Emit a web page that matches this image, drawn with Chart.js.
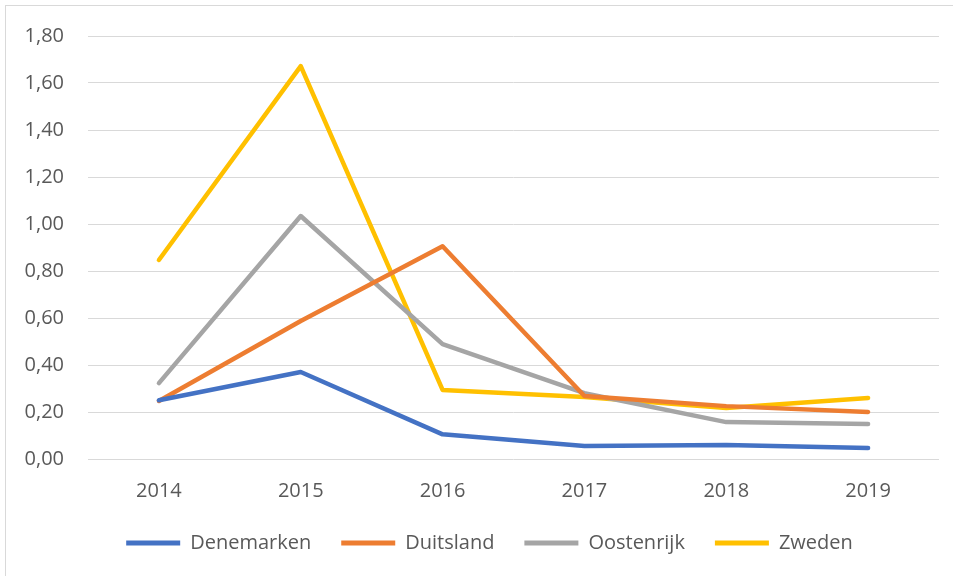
<!DOCTYPE html>
<html>
<head>
<meta charset="utf-8">
<script src="https://cdn.jsdelivr.net/npm/chart.js@4/dist/chart.umd.min.js"></script>
<style>
  html, body { margin: 0; padding: 0; background: #ffffff; overflow: hidden; }
  #frame { position: absolute; left: 5px; top: 5px; width: 960px; height: 600px;
           border-left: 1px solid #d9d9d9; border-top: 1px solid #d9d9d9; }
  #wrap { position: absolute; left: 0; top: 0; width: 953px; height: 576px; }
</style>
</head>
<body>
<div id="frame"></div>
<div id="wrap"><canvas id="c" width="953" height="576"></canvas></div>
<script>
const years = ['2014', '2015', '2016', '2017', '2018', '2019'];
const denemarken = [0.25, 0.37, 0.105, 0.055, 0.06, 0.047];
const duitsland  = [0.247, 0.587, 0.905, 0.268, 0.225, 0.20];
const oostenrijk = [0.323, 1.034, 0.489, 0.28, 0.157, 0.149];
const zweden     = [0.847, 1.672, 0.294, 0.264, 0.217, 0.26];
const seriesNames = ['Denemarken', 'Duitsland', 'Oostenrijk', 'Zweden'];
const seriesColors = ['#4472C4', '#ED7D31', '#A5A5A5', '#FFC000'];
const seriesData = [denemarken, duitsland, oostenrijk, zweden];

const textColor = '#595959';
const fontFamily = '"Open Sans", "Noto Sans", sans-serif';

// let the y tick labels extend left of the axis box without being clipped
const unclipY = {
  id: 'unclipY',
  afterLayout(chart) { chart.scales.y.left = 0; }
};

new Chart(document.getElementById('c'), {
  type: 'line',
  data: {
    labels: years,
    datasets: seriesData.map((d, i) => ({
      label: seriesNames[i],
      data: d,
      borderColor: seriesColors[i],
      backgroundColor: seriesColors[i],
      borderWidth: 4.5,
      borderCapStyle: 'round',
      borderJoinStyle: 'round',
      pointRadius: 0,
      pointHoverRadius: 0,
      tension: 0,
      fill: false
    }))
  },
  plugins: [unclipY],
  options: {
    responsive: false,
    animation: false,
    events: [],
    layout: { padding: { left: 40, right: 14, top: 36, bottom: 13 } },
    scales: {
      x: {
        offset: true,
        grid: { display: false, drawTicks: false },
        border: { display: false },
        ticks: { color: textColor, font: { family: fontFamily, size: 20 }, padding: 20, maxRotation: 0 },
        afterFit: (s) => { s.height = 44; }
      },
      y: {
        min: 0,
        max: 1.8,
        grid: { color: '#d9d9d9', lineWidth: 1, drawTicks: false },
        border: { display: false },
        ticks: {
          stepSize: 0.2,
          color: textColor,
          font: { family: fontFamily, size: 20 },
          padding: 24,
          callback: (v) => Number(v).toFixed(2).replace('.', ',')
        },
        afterFit: (s) => { s.width = 48; }
      }
    },
    plugins: {
      tooltip: { enabled: false },
      legend: {
        position: 'bottom',
        labels: {
          color: textColor,
          font: { family: fontFamily, size: 20 },
          boxWidth: 54,
          boxHeight: 5,
          padding: 30,
          generateLabels: (chart) => chart.data.datasets.map((ds, i) => ({
            text: ds.label,
            fillStyle: ds.borderColor,
            strokeStyle: ds.borderColor,
            lineWidth: 0,
            fontColor: textColor,
            datasetIndex: i,
            hidden: false
          }))
        }
      }
    }
  }
});
</script>
</body>
</html>
